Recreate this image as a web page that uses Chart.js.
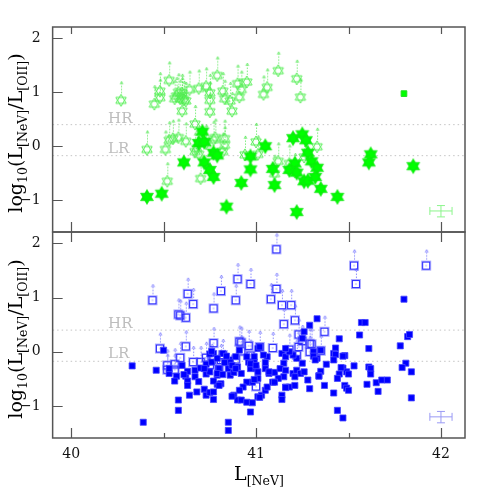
<!DOCTYPE html>
<html>
<head>
<meta charset="utf-8">
<script src="https://cdn.jsdelivr.net/npm/chart.js@4/dist/chart.umd.min.js"></script>
<style>
  body { margin: 0; background: #fff; }
  #wrap { position: relative; width: 491px; height: 491px; }
  #wrap canvas { position: absolute; left: 0; top: 0; }
  .ttl { position: absolute; font-family: 'DejaVu Serif', serif; font-size: 19px; line-height: 1; white-space: nowrap; color: #000; }
  .ttl sub { font-size: 0.66em; vertical-align: -0.4em; line-height: 0; }
  .ytl { transform: translate(-50%, -50%) rotate(-90deg); }
  .xtl { transform: translate(-50%, 0); }
</style>
</head>
<body>
<div id="wrap">
  <canvas id="topChart" width="491" height="491"></canvas>
  <canvas id="botChart" width="491" height="491"></canvas>
  <div class="ttl ytl" style="left:15px; top:133px">log<sub>10</sub>(L<sub>[NeV]</sub>/L<sub>[OII]</sub>)</div>
  <div class="ttl ytl" style="left:15px; top:339px">log<sub>10</sub>(L<sub>[NeV]</sub>/L<sub>[OII]</sub>)</div>
  <div class="ttl xtl" style="left:259px; top:464px">L<sub>[NeV]</sub></div>
</div>
<script>
// axes
const xTicks = [40, 40.5, 41, 41.5, 42];
const yTicks = [-1, 0, 1, 2];
const xMin = 39.9, xMax = 42.13, yMin = -1.59, yMax = 2.21;
const hrLevel = 0.40, lrLevel = -0.175;

// top panel: upper limits (open stars) and detections (filled stars)
const topOpenX = [40.27, 40.45, 40.48, 40.48, 40.53, 40.56, 40.58, 40.59, 40.60, 40.61, 40.62, 40.60, 40.64, 40.69, 40.73, 40.75,
  40.75, 40.75, 40.79, 40.82, 40.83, 40.86, 40.87, 40.90, 40.91, 40.92, 40.95, 41.04, 41.06, 41.12, 41.22, 41.24, 40.60, 40.57,
  40.67, 40.41, 40.51, 40.53, 40.58, 40.62, 40.52, 40.68, 40.69, 40.70, 40.73, 40.78, 40.83, 40.83, 40.82, 40.94, 41.00, 41.01,
  41.12, 41.18, 41.10, 41.26, 41.33, 40.77, 41.21, 40.55, 40.67];
const topOpenY = [0.85, 0.78, 1.02, 0.90, 1.22, 0.88, 1.00, 0.88, 0.99, 0.86, 0.84, 0.65, 1.05, 1.07, 1.11, 0.99,
  0.85, 0.64, 1.31, 1.02, 0.88, 0.84, 0.65, 1.16, 0.91, 1.05, 1.19, 0.96, 1.09, 1.40, 1.25, 0.91, 0.93, 0.93,
  0.41, -0.06, -0.06, 0.11, 0.16, 0.09, -0.65, -0.04, -0.15, -0.60, 0.05, 0.16, 0.14, 0.02, -0.10, -0.16, 0.08, -0.15,
  -0.28, -0.32, -0.51, -0.20, -0.01, 0.12, -0.48, 0.14, -0.10];
const topFillX = [40.41, 40.49, 40.61, 40.71, 40.69, 40.72, 40.72, 40.75, 40.77, 40.79, 40.77, 40.84, 40.92, 40.97, 40.97, 41.05,
  41.09, 41.10, 41.20, 41.25, 41.27, 41.28, 41.30, 41.21, 41.18, 41.22, 41.26, 41.28, 41.33, 41.32, 41.35, 41.22, 41.44,
  41.62, 41.61, 41.85];
const topFillY = [-0.94, -0.88, -0.30, 0.27, 0.06, 0.08, -0.30, -0.44, -0.12, -0.17, -0.57, -1.12, -0.68, -0.19, -0.43, 0.00,
  -0.42, -0.72, 0.15, 0.22, 0.11, -0.12, -0.28, -0.32, -0.44, -0.49, -0.65, -0.64, -0.40, -0.57, -0.79, -1.22, -0.94,
  -0.15, -0.30, -0.37];
const topSquareX = [41.80];
const topSquareY = [0.975];

// bottom panel: upper limits (open squares) and detections (filled squares)
const botOpenX = [40.44, 40.63, 40.66, 40.58, 40.59, 40.62, 40.77, 40.81, 40.89, 40.90, 40.97, 41.11, 41.11, 41.08, 41.14, 41.19,
  41.15, 41.21, 41.53, 41.54, 41.92,
  40.48, 40.52, 40.56, 40.56, 40.52, 40.59, 40.62, 40.66, 40.70, 40.73, 40.76, 40.77, 40.75, 40.82, 40.81, 40.80, 40.92, 40.92,
  40.89, 40.96, 40.97, 41.02, 41.09, 41.00, 41.18, 41.22, 41.23, 41.25, 41.23, 41.29, 41.29, 41.35, 41.37, 40.91, 41.30];
const botOpenY = [0.95, 1.07, 0.88, 0.69, 0.67, 0.63, 0.80, 1.12, 0.95, 1.34, 1.25, 1.89, 1.16, 0.97, 0.86, 0.86,
  0.51, 0.58, 1.59, 1.25, 1.59,
  0.06, -0.25, -0.23, -0.33, -0.33, -0.11, 0.10, -0.19, -0.19, -0.11, -0.15, 0.16, -0.24, -0.06, -0.15, -0.32, 0.17, 0.01,
  -0.14, 0.11, -0.07, 0.09, 0.07, -0.64, 0.04, -0.06, 0.32, 0.20, 0.09, 0.15, 0.00, 0.02, 0.37, 0.19, 0.14];
const botFillX = [
  40.33, 40.50, 40.46, 40.53, 40.53, 40.57, 40.56, 40.58, 40.58, 40.39, 40.62, 40.63, 40.63, 40.63, 40.64, 40.67,
  40.67, 40.68, 40.70, 40.72, 40.73, 40.75, 40.73, 40.75, 40.73, 40.76, 40.77, 40.75, 40.77, 40.77, 40.79, 40.79,
  41.29, 41.26, 41.25, 40.82, 40.79, 40.86, 40.85, 40.80, 40.79, 40.82, 40.86, 40.88, 40.90, 40.89, 40.91, 40.96,
  40.97, 40.99, 41.00, 41.01, 41.02, 40.99, 41.06, 41.05, 41.07, 41.01, 40.98, 40.95, 40.93, 40.91, 40.88, 40.90,
  40.92, 40.95, 40.98, 41.01, 41.03, 41.05, 41.06, 40.97, 40.85, 40.85, 40.81, 41.10, 41.09, 41.14, 41.16, 41.15,
  41.13, 41.16, 41.15, 41.12, 41.14, 41.14, 41.16, 41.18, 41.21, 41.20, 41.22, 41.24, 41.26, 41.25, 41.22, 41.20,
  41.18, 41.16, 41.21, 41.28, 41.29,
  41.80, 41.33, 41.57, 41.59, 41.56, 41.45, 41.61, 41.78, 41.82, 41.83, 41.43, 41.35, 41.31, 41.42, 41.43, 41.48,
  41.42, 41.33, 41.38, 41.53, 41.61, 41.62, 41.62, 41.81, 41.79, 41.84, 41.47, 41.35, 41.34, 41.45, 41.49, 41.50,
  41.44, 41.65, 41.68, 41.71, 41.60, 41.37, 41.48, 41.49, 41.50, 41.66, 41.42, 41.84, 41.44, 41.47, 41.31, 41.32,
  41.04, 41.05, 41.10, 41.16, 41.34, 41.46, 41.47, 40.61, 40.72, 40.77, 40.80, 40.76, 40.86, 40.87, 40.89, 40.92,
  40.95, 40.97, 41.00, 41.01, 40.99, 40.87, 41.02, 41.07, 40.83, 40.84, 40.69, 40.60];
const botFillY = [
  -0.26, 0.03, -0.34, -0.40, -0.31, -0.45, -0.54, -0.89, -1.08, -1.30, -0.45, -0.36, -0.54, -0.62, -0.80, -0.46,
  -0.34, -0.74, -0.30, -0.69, -0.80, -0.75, -0.41, -0.37, -0.23, -0.19, -0.03, -0.04, -0.74, -0.88, -0.43, -0.60,
  0.49, 0.37, 0.25, -0.03, -0.12, -0.15, -0.31, -0.31, -0.40, -0.42, -0.43, -0.38, -0.28, -0.09, 0.03, -0.19,
  -0.31, -0.19, -0.31, 0.06, 0.09, -0.09, -0.09, -0.31, -0.40, -0.49, -0.56, -0.56, -0.65, -0.71, -0.80, -0.89,
  -0.89, -0.93, -0.94, -0.83, -0.80, -0.71, -0.65, -1.11, -1.30, -1.45, -0.59, -0.38, -0.56, -0.03, -0.09, -0.21,
  -0.31, -0.34, -0.46, -0.49, -0.80, -0.88, -0.65, -0.65, -0.62, -0.40, -0.34, -0.40, -0.37, -0.21, -0.12, -0.06,
  0.00, 0.06, -0.46, -0.52, -0.68,
  0.97, 0.61, 0.54, 0.54, 0.31, 0.24, 0.06, 0.11, 0.28, 0.32, 0.07, 0.03, 0.00, -0.03, -0.05, -0.07,
  -0.15, -0.12, -0.23, -0.26, -0.28, -0.31, -0.41, -0.21, -0.29, -0.37, -0.30, -0.36, -0.44, -0.41, -0.37, -0.41,
  -0.49, -0.57, -0.52, -0.52, -0.60, -0.62, -0.62, -0.67, -0.71, -0.73, -0.76, -0.85, -1.08, -1.22, -0.08, -0.15,
  -0.06, -0.20, -0.56, -0.66, -0.45, -0.29, -0.08, -0.42, -0.31, -0.54, -0.62, 0.01, -0.19, -0.25, -0.31, -0.40,
  -0.09, -0.22, -0.25, -0.37, -0.51, -0.82, -0.84, -0.37, -0.20, -0.08, -0.55, -0.25];

// typical error bar (centre and half-widths)
const errX = 42.0, errY = -1.20, errDx = 0.06, errUp = 0.10, errDn = 0.11;

const pts = (xs, ys) => xs.map((x, i) => ({ x: x, y: ys[i] }));

function hexagram(ctx, cx, cy, r) {
  ctx.beginPath();
  [-90, 90].forEach(a0 => {
    for (let k = 0; k < 3; k++) {
      const a = (a0 + k * 120) * Math.PI / 180;
      const px = cx + r * Math.cos(a), py = cy + r * Math.sin(a);
      if (k === 0) ctx.moveTo(px, py); else ctx.lineTo(px, py);
    }
    ctx.closePath();
  });
}

function arrow(ctx, cx, y0, y1, color) {
  ctx.strokeStyle = color;
  ctx.lineWidth = 1;
  ctx.setLineDash([1.5, 1.5]);
  ctx.beginPath(); ctx.moveTo(cx, y0); ctx.lineTo(cx, y1 + 1); ctx.stroke();
  ctx.setLineDash([]);
  ctx.beginPath(); ctx.moveTo(cx - 1.5, y1 + 3); ctx.lineTo(cx, y1); ctx.lineTo(cx + 1.5, y1 + 3); ctx.stroke();
}

function makeOpenStar() {
  const c = document.createElement('canvas'); c.width = 16; c.height = 44;
  const ctx = c.getContext('2d');
  hexagram(ctx, 8, 22, 6);
  ctx.strokeStyle = '#55ee55'; ctx.lineWidth = 1; ctx.stroke();
  arrow(ctx, 8.5, 15, 3, 'rgba(70,230,70,0.7)');
  return c;
}
function makeFillStar() {
  const c = document.createElement('canvas'); c.width = 18; c.height = 18;
  const ctx = c.getContext('2d');
  hexagram(ctx, 9, 9, 7.5);
  ctx.fillStyle = '#00ff00'; ctx.fill();
  ctx.strokeStyle = '#10e010'; ctx.lineWidth = 0.6; ctx.stroke();
  return c;
}
function makeOpenSquare() {
  const c = document.createElement('canvas'); c.width = 12; c.height = 36;
  const ctx = c.getContext('2d');
  ctx.strokeStyle = 'rgba(110,110,255,0.6)'; ctx.lineWidth = 1;
  ctx.strokeRect(1.5, 13.5, 9, 9);
  ctx.strokeStyle = '#2a2aff';
  ctx.strokeRect(2.5, 14.5, 7, 7);
  ctx.fillStyle = '#6060ff'; ctx.fillRect(5.5, 17.5, 1, 1);
  arrow(ctx, 6.5, 12, 2, 'rgba(90,90,255,0.7)');
  return c;
}

const openStar = makeOpenStar(), fillStar = makeFillStar(), openSquare = makeOpenSquare();

function levelLine(v) {
  return {
    type: 'line', data: [{ x: xMin, y: v }, { x: xMax, y: v }],
    borderColor: '#c4c4c4', borderWidth: 1, borderDash: [1.5, 3], pointRadius: 0, order: 10
  };
}

const decor = {
  id: 'decor',
  beforeDatasetsDraw(chart, args, o) {
    const { ctx, scales: { x, y } } = chart;
    ctx.save();
    ctx.fillStyle = '#bdbdbd';
    ctx.font = '15px "DejaVu Serif"';
    ctx.textBaseline = 'alphabetic';
    ctx.textAlign = 'left';
    const lx = x.getPixelForValue(40.2);
    ctx.fillText('HR', lx, y.getPixelForValue(hrLevel) - 2);
    ctx.fillText('LR', lx, y.getPixelForValue(lrLevel) - 3);
    // error bar
    const cx = x.getPixelForValue(errX), cy = y.getPixelForValue(errY);
    const xl = x.getPixelForValue(errX - errDx), xr = x.getPixelForValue(errX + errDx);
    const yt = y.getPixelForValue(errY + errUp), yb = y.getPixelForValue(errY - errDn);
    ctx.strokeStyle = o.errColor; ctx.lineWidth = 1;
    ctx.beginPath();
    ctx.moveTo(xl, cy); ctx.lineTo(xr, cy);
    ctx.moveTo(cx, yt); ctx.lineTo(cx, yb);
    ctx.moveTo(xl, cy - 4); ctx.lineTo(xl, cy + 4);
    ctx.moveTo(xr, cy - 4); ctx.lineTo(xr, cy + 4);
    ctx.moveTo(cx - 4, yt); ctx.lineTo(cx + 4, yt);
    ctx.moveTo(cx - 4, yb); ctx.lineTo(cx + 4, yb);
    ctx.stroke();
    ctx.restore();
  },
  afterDraw(chart, args, o) {
    const { ctx, chartArea: a, scales: { x, y } } = chart;
    ctx.save();
    ctx.strokeStyle = '#555'; ctx.lineWidth = 1.5;
    ctx.strokeRect(a.left, a.top, a.right - a.left, a.bottom - a.top);
    ctx.lineWidth = 1.2;
    ctx.beginPath();
    xTicks.forEach(v => {
      const px = Math.round(x.getPixelForValue(v)) + 0.5;
      const major = Number.isInteger(v);
      ctx.moveTo(px, a.top); ctx.lineTo(px, a.top + o.topLen);
      ctx.moveTo(px, a.bottom); ctx.lineTo(px, a.bottom - (major ? o.botLen : o.botMinor));
    });
    yTicks.forEach(v => {
      const py = Math.round(y.getPixelForValue(v)) + 0.5;
      ctx.moveTo(a.left, py); ctx.lineTo(a.left + 10, py);
    });
    ctx.stroke();
    ctx.restore();
  }
};

function baseOptions(padding, showX, deco) {
  return {
    responsive: false, animation: false, events: [],
    layout: { padding: padding },
    plugins: { legend: { display: false }, tooltip: { enabled: false }, decor: deco },
    scales: {
      x: {
        type: 'linear', min: xMin, max: xMax, display: showX,
        afterBuildTicks: s => { s.ticks = xTicks.map(v => ({ value: v })); },
        afterFit: s => { if (showX) s.height = 53; },
        grid: { display: false, drawTicks: false }, border: { display: false },
        ticks: {
          padding: 8, color: '#111', font: { family: 'DejaVu Serif', size: 14 },
          callback: v => Number.isInteger(v) ? String(v) : ''
        }
      },
      y: {
        type: 'linear', min: yMin, max: yMax,
        afterBuildTicks: s => { s.ticks = yTicks.map(v => ({ value: v })); },
        grid: { display: false, drawTicks: false }, border: { display: false },
        ticks: {
          padding: 12, color: '#111', font: { family: 'DejaVu Serif', size: 14 },
          callback: v => String(v).replace('-', '\u2212')
        }
      }
    }
  };
}

new Chart(document.getElementById('topChart'), {
  type: 'scatter',
  data: {
    datasets: [
      { data: pts(topFillX, topFillY), pointStyle: fillStar, pointRadius: 8, order: 1 },
      { data: pts(topSquareX, topSquareY), pointStyle: 'rect', pointRadius: 4, backgroundColor: '#00ff00', borderColor: '#20e020', borderWidth: 1, order: 2 },
      { data: pts(topOpenX, topOpenY), pointStyle: openStar, pointRadius: 8, order: 3 },
      levelLine(hrLevel), levelLine(lrLevel)
    ]
  },
  options: baseOptions({ top: 27, right: 26, bottom: 259, left: 8 }, false,
    { errColor: '#8cf58c', topLen: 7, botLen: 10, botMinor: 10 }),
  plugins: [decor]
});

new Chart(document.getElementById('botChart'), {
  type: 'scatter',
  data: {
    datasets: [
      { data: pts(botFillX, botFillY), pointStyle: 'rect', pointRadius: 4.3, backgroundColor: '#0000ff', borderColor: 'rgba(70,70,255,0.8)', borderWidth: 1, order: 1 },
      { data: pts(botOpenX, botOpenY), pointStyle: openSquare, pointRadius: 8, order: 2 },
      levelLine(hrLevel), levelLine(lrLevel)
    ]
  },
  options: baseOptions({ top: 232, right: 26, bottom: 0, left: 8 }, true,
    { errColor: '#9a9af5', topLen: 10, botLen: 10, botMinor: 5 }),
  plugins: [decor]
});
</script>
</body>
</html>
